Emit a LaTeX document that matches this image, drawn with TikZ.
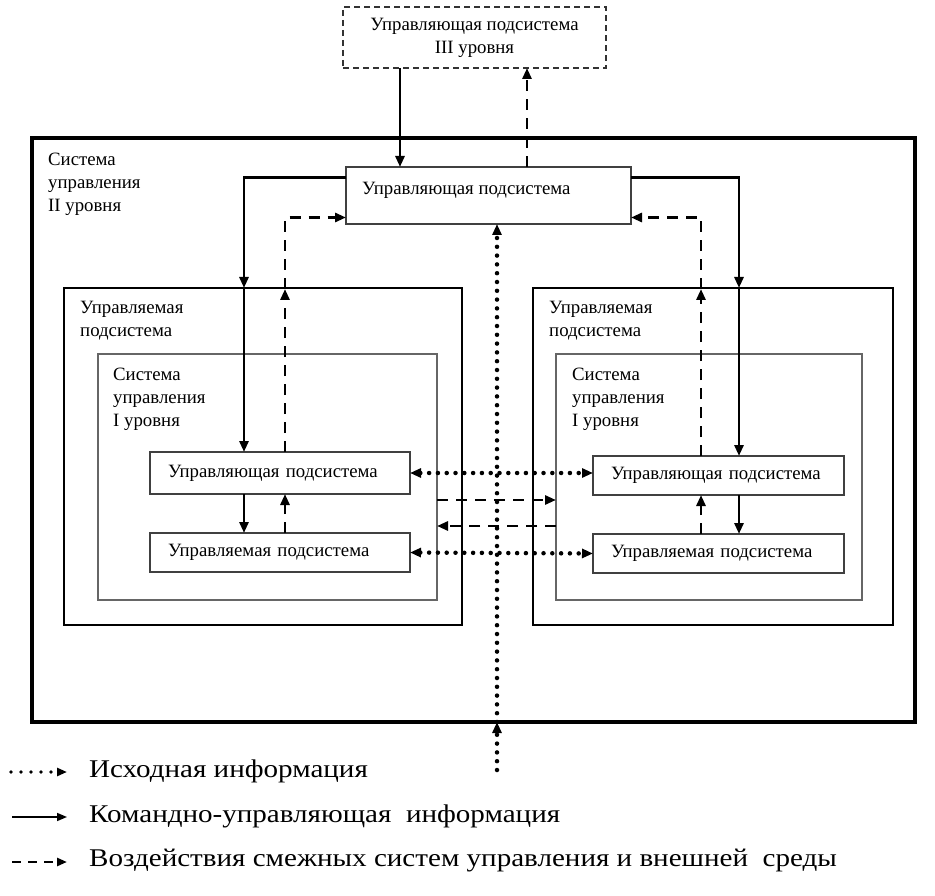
\documentclass[tikz,border=0pt]{standalone}
\usepackage{fontspec}
\setmainfont{Liberation Serif}
\newfontfamily\legendfont[FakeStretch = 1.14]{Liberation Serif}
\usetikzlibrary{arrows.meta,positioning}
\tikzstyle{frame box}=[
        draw,
        line width = 4pt,
        anchor = north west,
        inner sep = 0pt,
        outer sep = 0pt
    ]
\tikzstyle{big box}=[
        draw,
        line width = 2.6pt,
        anchor = north west,
        inner sep = 0pt,
        outer sep = 0pt
    ]
\tikzstyle{inner box}=[
        draw = black!60,
        line width = 1.1pt,
        anchor = north west,
        inner sep = 0pt,
        outer sep = 0pt
    ]
\tikzstyle{unit box}=[
        draw = black!75,
        line width = 1.1pt,
        fill = white,
        anchor = north west,
        align = left,
        inner xsep = 18pt,
        inner ysep = 0pt,
        outer sep = 0pt
    ]
\tikzstyle{dash box}=[
        draw = black!80,
        line width = 1.4pt,
        dash pattern = on 6pt off 4pt,
        anchor = north west,
        align = center,
        inner sep = 0pt,
        outer sep = 0pt
    ]
\tikzstyle{label text}=[anchor = north west, align = left, inner sep = 0pt]
\tikzstyle{legend text}=[anchor = west, inner xsep = 22pt, inner ysep = 0pt,
        font = \legendfont\fontsize{25.5}{30}\selectfont]
\tikzstyle{command}=[->, line width = 2.8pt]
\tikzstyle{influence}=[->, line width = 2.9pt, dash pattern = on 11pt off 8pt]
\tikzstyle{source}=[->, line width = 4.5pt, line cap = round, dash pattern = on 0pt off 8.8pt]
\tikzstyle{key command}=[->, line width = 1.6pt]
\tikzstyle{key influence}=[->, line width = 2.5pt, dash pattern = on 9pt off 7pt]
\tikzstyle{key source}=[->, line width = 3.6pt, line cap = round, dash pattern = on 0pt off 10pt]

\begin{document}
\begin{tikzpicture}[x = 1pt, y = -1pt, >={Triangle[length = 11pt, width = 9pt]},
        font = \fontsize{18.8}{23}\selectfont]
        \useasboundingbox (0,0) rectangle (935,896);

        % boxes
        \node[dash box, minimum width = 263pt, minimum height = 61pt] (ctrlIII) at (343,7) {Управляющая подсистема\\III уровня};
        \node[frame box, minimum width = 883pt, minimum height = 584pt] (sysII) at (32,138) {};
        \node[label text] (sysIIlabel) at (48,153) {Система\\управления\\II уровня};
        \node[unit box, minimum width = 285pt, minimum height = 57pt] (ctrlII) at (346,167) {};
        \node[anchor = west, inner sep = 0pt] (ctrlIItext) at (362,190) {Управляющая подсистема};

        \node[big box, minimum width = 398pt, minimum height = 337pt] (manL) at (64,288) {};
        \node[big box, minimum width = 360pt, minimum height = 337pt] (manR) at (533,288) {};
        \node[label text] (manLlabel) at (80,301) {Управляемая\\подсистема};
        \node[label text] (manRlabel) at (549,301) {Управляемая\\подсистема};

        \node[inner box, minimum width = 339pt, minimum height = 246pt] (sysIL) at (98,354) {};
        \node[inner box, minimum width = 306pt, minimum height = 246pt] (sysIR) at (556,354) {};
        \node[label text] (sysILlabel) at (113,368) {Система\\управления\\I уровня};
        \node[label text] (sysIRlabel) at (572,368) {Система\\управления\\I уровня};

        \node[unit box, text width = 224pt, minimum height = 42pt] (ctrlIL) at (150,452) {Управляющая подсистема};
        \node[unit box, text width = 224pt, minimum height = 39pt] (unitIL) [below = 39pt of ctrlIL] {Управляемая подсистема};
        \node[unit box, text width = 215pt, minimum height = 39pt] (ctrlIR) at (593,456) {Управляющая подсистема};
        \node[unit box, text width = 215pt, minimum height = 39pt] (unitIR) [below = 39pt of ctrlIR] {Управляемая подсистема};

        % bends and entries
        \coordinate (downIII) at (400,0);
        \coordinate (upIII) at (527,0);
        \coordinate (kneeL) at (244,288);
        \coordinate (kneeR) at (739,288);
        \coordinate (riseL) at (285,289);
        \coordinate (riseR) at (701,289);
        \coordinate (srcIn) at (497,770);

        % level III
        \draw[command] (ctrlIII.south -| downIII) -- (ctrlII.north -| downIII);
        \draw[influence] (ctrlII.north -| upIII) -- (ctrlIII.south -| upIII);

        % left side
        \draw[command] ([yshift = 18pt]ctrlII.west) -| (kneeL);
        \draw[command] (kneeL) -- (ctrlIL.north -| kneeL);
        \draw[command] (ctrlIL.south -| kneeL) -- (unitIL.north -| kneeL);
        \draw[influence] (ctrlIL.north -| riseL) -- (riseL);
        \draw[influence] (riseL) |- ([yshift = -22pt]ctrlII.west);
        \draw[influence] (unitIL.north -| riseL) -- (ctrlIL.south -| riseL);

        % right side
        \draw[command] ([yshift = 18pt]ctrlII.east) -| (kneeR);
        \draw[command] (kneeR) -- (ctrlIR.north -| kneeR);
        \draw[command] (ctrlIR.south -| kneeR) -- (unitIR.north -| kneeR);
        \draw[influence] (ctrlIR.north -| riseR) -- (riseR);
        \draw[influence] (riseR) |- ([yshift = -22pt]ctrlII.east);
        \draw[influence] (unitIR.north -| riseR) -- (ctrlIR.south -| riseR);

        % between the two sides
        \draw[source, <->] (ctrlIL.east) -- (ctrlIL.east -| ctrlIR.west);
        \draw[source, <->] (unitIL.east) -- (unitIR.west);
        \draw[influence] ([yshift = -23pt]sysIL.east) -- ([yshift = -23pt]sysIR.west);
        \draw[influence] ([yshift = -49pt]sysIR.west) -- ([yshift = -49pt]sysIL.east);
        \draw[source] (srcIn) -- (sysII.south -| srcIn);
        \draw[source] (sysII.south -| srcIn) -- (ctrlII.south -| srcIn);

        % legend
        \coordinate (keySrc) at (11,772);
        \coordinate (keyCmd) at (12,817);
        \coordinate (keyInf) at (12,862);
        \node[legend text] (legSrc) at (67,771) {Исходная информация};
        \node[legend text] (legCmd) at (67,816) {Командно-управляющая\ \ информация};
        \node[legend text] (legInf) at (67,861) {Воздействия смежных систем управления и внешней\ \ среды};
        \draw[key source, >={Triangle[length = 10pt, width = 8pt]}] (keySrc) -- (legSrc.west |- keySrc);
        \draw[key command, >={Triangle[length = 10pt, width = 8pt]}] (keyCmd) -- (legCmd.west |- keyCmd);
        \draw[key influence, >={Triangle[length = 10pt, width = 8pt]}] (keyInf) -- (legInf.west |- keyInf);
    \end{tikzpicture}
\end{document}
